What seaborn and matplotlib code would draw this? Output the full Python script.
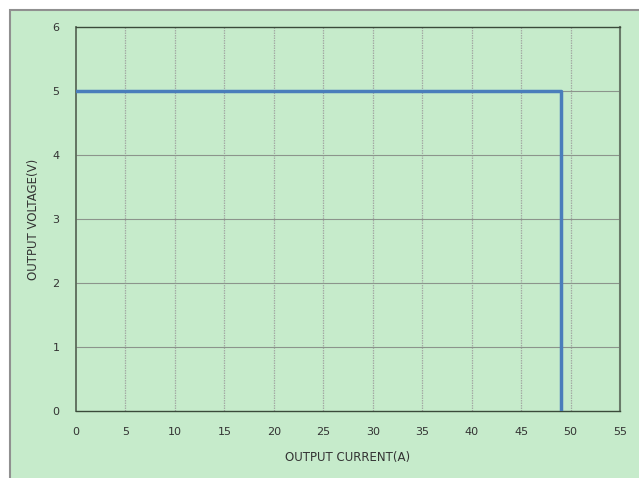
import pandas as pd
import matplotlib.pyplot as plt
import seaborn as sns
from matplotlib.patches import Rectangle

# Output characteristic: constant voltage then current limit
current = [0, 49, 49]
voltage = [5, 5, 0]
x_ticks = list(range(0, 60, 5))
y_ticks = list(range(0, 7))

data = pd.DataFrame({'current': current, 'voltage': voltage})

sns.set_style('white')
plt.rcParams['font.family'] = ['DejaVu Sans']

fig = plt.figure(figsize=(6.39, 4.78), dpi=100, facecolor='white')
green = '#C6EBCB'
border = Rectangle((10 / 639, -0.05), 1.0, 1 - 10 / 478 + 0.05,
                   transform=fig.transFigure, facecolor=green,
                   edgecolor='#909090', linewidth=1.5, zorder=-5)
fig.add_artist(border)

ax = fig.add_axes([76 / 639, 1 - 411 / 478, (620 - 76) / 639, (411 - 27) / 478])
ax.set_zorder(2)
ax.set_facecolor(green)

sns.lineplot(data=data, x='current', y='voltage', sort=False, estimator=None,
             ax=ax, color='#4A7EBB', linewidth=2.5, zorder=3)

ax.set_xlim(0, 55)
ax.set_ylim(0, 6)
ax.set_xticks(x_ticks)
ax.set_yticks(y_ticks)

# dotted vertical grid, solid horizontal grid
for v in x_ticks[1:-1]:
    ax.axvline(v, color='#a4aaa4', linestyle=(0, (1.2, 0.8)), linewidth=0.9, zorder=1)
for v in y_ticks[1:-1]:
    ax.axhline(v, color='#8c948c', linestyle='-', linewidth=0.8, zorder=1)

for side in ['bottom', 'top']:
    ax.spines[side].set_color('#3a4a3a')
    ax.spines[side].set_linewidth(1.0)
ax.spines['left'].set_color('#5a6a5a')
ax.spines['left'].set_linewidth(1.3)
ax.spines['right'].set_color('#6a7a6a')
ax.spines['right'].set_linewidth(1.5)

ax.tick_params(axis='x', length=0, pad=11.5, labelsize=8, colors='#333333')
ax.tick_params(axis='y', length=0, pad=12, labelsize=8, colors='#333333')
ax.set_xlabel('OUTPUT CURRENT(A)', fontsize=8.5, color='#333333', labelpad=10)
ax.set_ylabel('OUTPUT VOLTAGE(V)', fontsize=8.5, color='#333333', labelpad=9)

plt.savefig('out.png', dpi=100, facecolor=fig.get_facecolor())
